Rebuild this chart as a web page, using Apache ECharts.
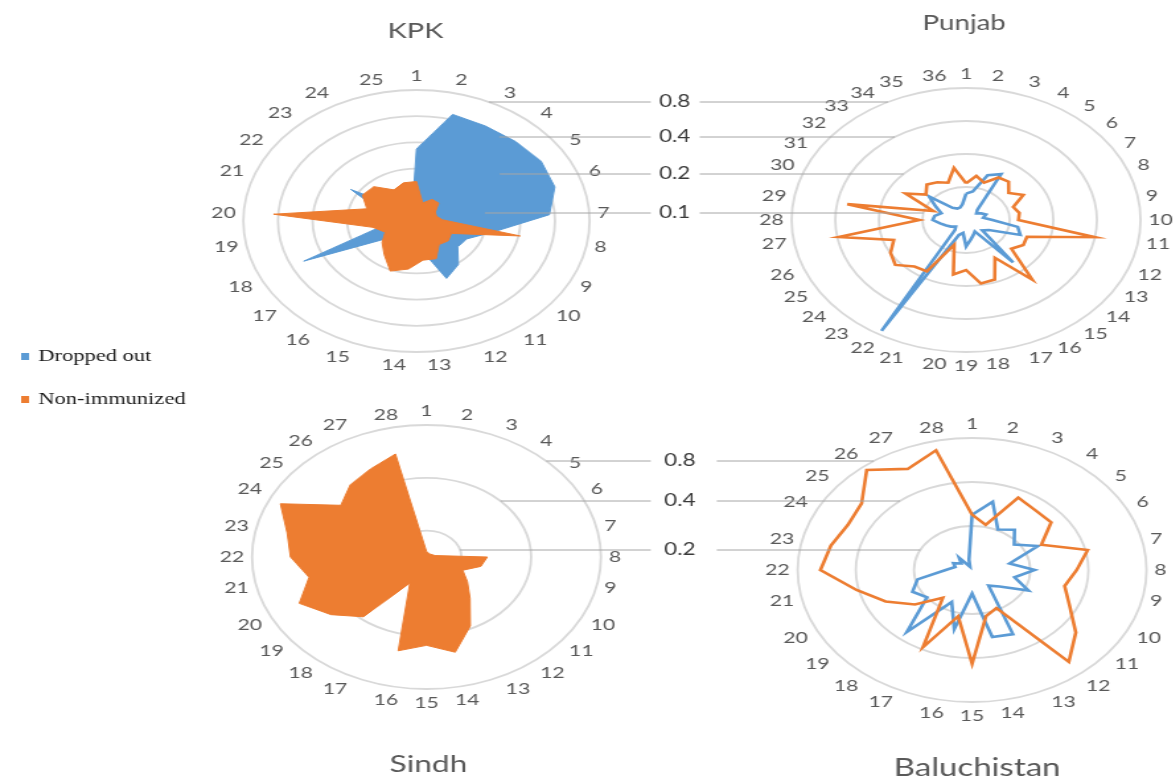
<!DOCTYPE html>
<html>
<head>
<meta charset="utf-8">
<title>Dropped out and non-immunized children by province</title>
<script src="https://cdn.jsdelivr.net/npm/echarts@6/dist/echarts.min.js"></script>
<style>
  html, body { margin: 0; padding: 0; background: #ffffff; overflow: hidden; }
  #frame { width: 1173px; height: 782px; overflow: hidden; position: relative; }
  #chart { position: absolute; left: 0; top: 0; height: 782px; transform-origin: 0 0; }
</style>
</head>
<body>
<div id="frame"><div id="chart"></div></div>
<script>
// ---------------- data ----------------
const seriesNames = ['Dropped out', 'Non-immunized'];

const kpkLabels = ['1','2','3','4','5','6','7','8','9','10','11','12','13','14','15','16','17','18','19','20','21','22','23','24','25'];
const kpkDropped = [0.168, 0.46, 0.44, 0.45, 0.48, 0.46, 0.36, 0.119, 0.076, 0.073, 0.104, 0.128, 0.054, 0.042, 0.042, 0.042, 0.05, 0.303, 0.05, 0.05, 0.05, 0.119, 0.04, 0.035, 0.035];
const kpkNonImmunized = [0.071, 0.041, 0.048, 0.048, 0.039, 0.038, 0.042, 0.207, 0.054, 0.057, 0.054, 0.073, 0.071, 0.09, 0.104, 0.075, 0.061, 0.05, 0.061, 0.44, 0.071, 0.09, 0.087, 0.064, 0.071];

const punjabLabels = ['1','2','3','4','5','6','7','8','9','10','11','12','13','14','15','16','17','18','19','20','21','22','23','24','25','26','27','28','29','30','31','32','33','34','35','36'];
const punjabDropped = [0.087, 0.092, 0.136, 0.152, 0.066, 0.062, 0.066, 0.07, 0.066, 0.076, 0.115, 0.125, 0.076, 0.07, 0.16, 0.066, 0.07, 0.076, 0.087, 0.066, 0.07, 0.735, 0.066, 0.062, 0.066, 0.07, 0.076, 0.085, 0.083, 0.076, 0.087, 0.108, 0.07, 0.066, 0.066, 0.07];
const punjabNonImmunized = [0.108, 0.128, 0.115, 0.14, 0.143, 0.121, 0.143, 0.111, 0.118, 0.115, 0.40, 0.14, 0.143, 0.128, 0.257, 0.125, 0.189, 0.194, 0.143, 0.16, 0.087, 0.174, 0.179, 0.217, 0.2, 0.17, 0.39, 0.105, 0.34, 0.087, 0.152, 0.115, 0.132, 0.125, 0.115, 0.152];

const sindhLabels = ['1','2','3','4','5','6','7','8','9','10','11','12','13','14','15','16','17','18','19','20','21','22','23','24','25','26','27','28'];
const sindhNonImmunized = [0.152, 0.149, 0.149, 0.149, 0.149, 0.149, 0.154, 0.259, 0.246, 0.211, 0.238, 0.283, 0.386, 0.51, 0.451, 0.50, 0.207, 0.386, 0.476, 0.575, 0.468, 0.546, 0.585, 0.708, 0.42, 0.476, 0.51, 0.566];

const baluLabels = ['1','2','3','4','5','6','7','8','9','10','11','12','13','14','15','16','17','18','19','20','21','22','23','24','25','26','27','28'];
const baluDropped = [0.239, 0.301, 0.203, 0.225, 0.19, 0.239, 0.158, 0.211, 0.168, 0.211, 0.152, 0.137, 0.307, 0.295, 0.145, 0.26, 0.175, 0.348, 0.199, 0.22, 0.195, 0.137, 0.123, 0.128, 0.118, 0.128, 0.106, 0.118];
const baluNonImmunized = [0.239, 0.207, 0.355, 0.334, 0.334, 0.25, 0.411, 0.348, 0.31, 0.363, 0.486, 0.636, 0.195, 0.211, 0.438, 0.211, 0.386, 0.175, 0.239, 0.314, 0.411, 0.61, 0.562, 0.517, 0.539, 0.75, 0.586, 0.692];

// radial gridline values and the labels of the two ring keys
const ringTicks = [0.8, 0.4, 0.2, 0.1];
const ringTickLabels = ['0.8', '0.4', '0.2', '0.1'];
const radialMax = 0.8;

// ---------------- layout & style ----------------
// The whole figure is drawn on a narrower canvas and widened horizontally.
const STRETCH = 1.32;
const PAGE_W = 1173, PAGE_H = 782;
const BLUE = '#5B9BD5', ORANGE = '#ED7D31';
const RING = '#d9d9d9', LEADER = '#a6a6a6', AXIS_TEXT = '#595959';

const panels = [
  { title: 'KPK', labels: kpkLabels, dropped: kpkDropped, nonImm: kpkNonImmunized, min: 0.025, rings: 4,
    filled: true, cx: 416, cy: 221, radius: 131, titleX: 415, titleY: 31, titleSize: 22 },
  { title: 'Punjab', labels: punjabLabels, dropped: punjabDropped, nonImm: punjabNonImmunized, min: 0.05, rings: 4,
    filled: false, cx: 965, cy: 220, radius: 132, titleX: 963, titleY: 23, titleSize: 21 },
  { title: 'Sindh', labels: sindhLabels, dropped: null, nonImm: sindhNonImmunized, min: 0.1414, rings: 3,
    filled: true, cx: 426, cy: 557, radius: 132, titleX: 428, titleY: 764, titleSize: 24 },
  { title: 'Baluchistan', labels: baluLabels, dropped: baluDropped, nonImm: baluNonImmunized, min: 0.1, rings: 3,
    filled: false, cx: 971, cy: 570, radius: 132, titleX: 976, titleY: 768, titleSize: 25 }
];

// ring keys placed between two panels, with leader lines to each ring
const ringKeys = [
  { left: 0, right: 1, labelX: 674, leftEnd: 650, rightStart: 699, ys: [102, 137, 174, 213] },
  { left: 2, right: 3, labelX: 679, leftEnd: 650, rightStart: 716, ys: [461, 501, 550] }
];

const el = document.getElementById('chart');
el.style.width = (PAGE_W / STRETCH) + 'px';
el.style.transform = 'scaleX(' + STRETCH + ')';
const chart = echarts.init(el, null, { renderer: 'canvas', width: PAGE_W / STRETCH, height: PAGE_H });

// close each loop by repeating the first spoke at the full turn
function loop(values) {
  const d = values.map((v, i) => [v, i]);
  d.push([values[0], values.length]);
  return d;
}

const series = [];
const firstSeriesOfPanel = [];
panels.forEach((p, i) => {
  firstSeriesOfPanel.push(series.length);
  const lw = p.filled ? 1 : 2.6;
  const make = (name, vals, color, z) => ({
    type: 'line', name: name, coordinateSystem: 'polar', polarIndex: i,
    data: loop(vals), symbol: 'none', smooth: false, silent: true, z: z,
    lineStyle: { color: color, width: lw, join: 'miter' },
    itemStyle: { color: color },
    areaStyle: p.filled ? { color: color, opacity: 1 } : undefined
  });
  if (p.dropped) series.push(make(seriesNames[0], p.dropped, BLUE, 3));
  series.push(make(seriesNames[1], p.nonImm, ORANGE, 4));
});

const option = {
  animation: false,
  backgroundColor: '#ffffff',
  legend: {
    data: seriesNames, orient: 'vertical', left: 11, top: 343,
    icon: 'rect', itemWidth: 6, itemHeight: 7, itemGap: 26,
    selectedMode: false,
    textStyle: { fontFamily: 'Liberation Serif', fontSize: 17, color: '#1a1a1a', padding: [0, 0, 0, 2] }
  },
  polar: panels.map(p => ({ center: [p.cx / STRETCH, p.cy], radius: p.radius })),
  angleAxis: panels.map((p, i) => ({
    polarIndex: i, type: 'value', min: 0, max: p.labels.length, interval: 1,
    startAngle: 90, clockwise: true,
    axisLine: { show: true, lineStyle: { color: RING, width: 1.8 } },
    axisTick: { show: false },
    splitLine: { show: false },
    axisLabel: {
      show: true, margin: 6, color: AXIS_TEXT, fontSize: 16, fontFamily: 'Lato',
      formatter: v => { const k = Math.round(v); return k < p.labels.length ? p.labels[k] : ''; }
    }
  })),
  radiusAxis: panels.map((p, i) => ({
    polarIndex: i, type: 'log', logBase: 2, min: p.min, max: radialMax,
    axisLine: { show: false }, axisTick: { show: false },
    axisLabel: { show: false }, splitLine: { show: false }
  })),
  series: series
};
chart.setOption(option);

// ---------------- rings, ring keys and titles ----------------
const graphics = [];
const geom = panels.map((p, i) => {
  const finder = { seriesIndex: firstSeriesOfPanel[i] };
  const c = chart.convertToPixel(finder, [p.min, 0]);
  const radiusOf = v => {
    const pt = chart.convertToPixel(finder, [v, 0]);
    return Math.hypot(pt[0] - c[0], pt[1] - c[1]);
  };
  return { c: c, radiusOf: radiusOf };
});

panels.forEach((p, i) => {
  const g = geom[i];
  ringTicks.slice(1, p.rings).forEach(v => {
    graphics.push({
      type: 'circle', z: 0, silent: true,
      shape: { cx: g.c[0], cy: g.c[1], r: g.radiusOf(v) },
      style: { fill: 'none', stroke: RING, lineWidth: 1.8 }
    });
  });
  graphics.push({
    type: 'text', z: 10, silent: true,
    style: {
      text: p.title, x: p.titleX / STRETCH, y: p.titleY,
      align: 'center', verticalAlign: 'middle',
      fontFamily: 'Lato', fontSize: p.titleSize, fill: AXIS_TEXT
    }
  });
});

ringKeys.forEach(k => {
  const gl = geom[k.left], gr = geom[k.right];
  k.ys.forEach((y, j) => {
    const v = ringTicks[j];
    const rl = gl.radiusOf(v), rr = gr.radiusOf(v);
    const dyl = y - gl.c[1], dyr = y - gr.c[1];
    const xl = gl.c[0] + Math.sqrt(Math.max(0, rl * rl - dyl * dyl));
    const xr = gr.c[0] - Math.sqrt(Math.max(0, rr * rr - dyr * dyr));
    graphics.push({
      type: 'line', z: 10, silent: true,
      shape: { x1: xl, y1: y, x2: k.leftEnd / STRETCH, y2: y },
      style: { stroke: LEADER, lineWidth: 1 }
    });
    graphics.push({
      type: 'line', z: 10, silent: true,
      shape: { x1: k.rightStart / STRETCH, y1: y, x2: xr, y2: y },
      style: { stroke: LEADER, lineWidth: 1 }
    });
    graphics.push({
      type: 'text', z: 10, silent: true,
      style: {
        text: ringTickLabels[j], x: k.labelX / STRETCH, y: y,
        align: 'center', verticalAlign: 'middle',
        fontFamily: 'Lato', fontSize: 17, fill: '#3a3a3a'
      }
    });
  });
});

chart.setOption({ graphic: { elements: graphics } });
</script>
</body>
</html>
